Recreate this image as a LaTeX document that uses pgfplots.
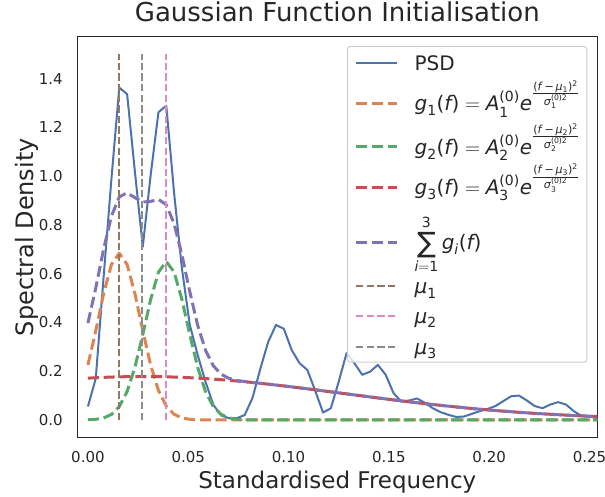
\documentclass[border=0pt]{standalone}
\usepackage{amsmath}
\usepackage{fontspec}
\setmainfont{DejaVu Sans}
\usepackage{pgfplots}
\usepackage{pgfplotstable}
\pgfplotsset{compat=1.18}
\definecolor{cpsd}{HTML}{4C72B0}
\definecolor{cgone}{HTML}{DD8452}
\definecolor{cgtwo}{HTML}{55A868}
\definecolor{cgthree}{HTML}{C44E52}
\definecolor{csum}{HTML}{8172B3}
\definecolor{cmuone}{HTML}{937860}
\definecolor{cmutwo}{HTML}{DA8BC3}
\definecolor{cmuthree}{HTML}{8C8C8C}
\definecolor{ctext}{HTML}{262626}
\newcommand{\I}[1]{\textit{#1}}
\newcommand{\EXP}[1]{\frac{\text{\fontsize{11}{13}\selectfont(\I{f}\,−\,\I{μ}\textsubscript{#1})\textsuperscript{2}}}{\text{\fontsize{11}{13}\selectfont\I{σ}$_{\text{#1}}^{\text{(0)2}}$}}}
\newcommand{\GF}[1]{$\I{g}_{\text{#1}}\text{(}\I{f}\text{)} = \I{A}_{\text{#1}}^{\text{(0)}}\I{e}^{\EXP{#1}}$}

\pgfplotstableread{
f psd g1 g2 g3 sum
0          0.055 0.2254 0.0007 0.1715 0.3976
0.00390625 0.170 0.3660 0.0025 0.1732 0.5417
0.0078125  0.586 0.5180 0.0080 0.1747 0.7007
0.01171875 0.990 0.6380 0.0224 0.1759 0.8363
0.015625   1.364 0.6840 0.0547 0.1768 0.9155
0.01953125 1.337 0.6380 0.1166 0.1775 0.9321
0.0234375  1.017 0.5180 0.2165 0.1779 0.9124
0.02734375 0.711 0.3660 0.3502 0.1780 0.8942
0.03125    1.004 0.2254 0.4937 0.1779 0.8970
0.03515625 1.263 0.1208 0.6068 0.1775 0.9051
0.0390625  1.290 0.0563 0.6500 0.1768 0.8831
0.04296875 0.930 0.0229 0.6068 0.1759 0.8056
0.046875   0.620 0.0081 0.4937 0.1747 0.6765
0.05078125 0.390 0.0025 0.3502 0.1732 0.5259
0.0546875  0.267 0.0007 0.2165 0.1715 0.3887
0.05859375 0.157 0.0002 0.1166 0.1696 0.2864
0.0625     0.062 0      0.0547 0.1674 0.2221
0.06640625 0.018 0      0.0224 0.1650 0.1874
0.0703125  0.007 0      0.0080 0.1625 0.1705
0.07421875 0.007 0      0.0025 0.1596 0.1621
0.078125   0.020 0      0.0007 0.1567 0.1574
0.08203125 0.090 0      0.0002 0.1535 0.1537
0.0859375  0.210 0      0      0.1502 0.1502
0.08984375 0.320 0      0      0.1467 0.1467
0.09375    0.390 0      0      0.1431 0.1431
0.09765625 0.374 0      0      0.1394 0.1394
0.1015625  0.287 0      0      0.1355 0.1355
0.10546875 0.233 0      0      0.1316 0.1316
0.109375   0.205 0      0      0.1276 0.1276
0.11328125 0.120 0      0      0.1235 0.1235
0.1171875  0.030 0      0      0.1194 0.1194
0.12109375 0.048 0      0      0.1152 0.1152
0.125      0.157 0      0      0.1110 0.1110
0.12890625 0.274 0      0      0.1068 0.1068
0.1328125  0.233 0      0      0.1026 0.1026
0.13671875 0.185 0      0      0.0985 0.0985
0.140625   0.198 0      0      0.0943 0.0943
0.14453125 0.226 0      0      0.0902 0.0902
0.1484375  0.185 0      0      0.0861 0.0861
0.15234375 0.110 0      0      0.0821 0.0821
0.15625    0.075 0      0      0.0782 0.0782
0.16015625 0.080 0      0      0.0743 0.0743
0.1640625  0.088 0      0      0.0706 0.0706
0.16796875 0.070 0      0      0.0669 0.0669
0.171875   0.048 0      0      0.0633 0.0633
0.17578125 0.032 0      0      0.0598 0.0598
0.1796875  0.021 0      0      0.0564 0.0564
0.18359375 0.012 0      0      0.0531 0.0531
0.1875     0.014 0      0      0.0500 0.0500
0.19140625 0.025 0      0      0.0470 0.0470
0.1953125  0.036 0      0      0.0440 0.0440
0.19921875 0.045 0      0      0.0412 0.0412
0.203125   0.057 0      0      0.0386 0.0386
0.20703125 0.077 0      0      0.0360 0.0360
0.2109375  0.097 0      0      0.0336 0.0336
0.21484375 0.100 0      0      0.0312 0.0312
0.21875    0.080 0      0      0.0290 0.0290
0.22265625 0.057 0      0      0.0269 0.0269
0.2265625  0.048 0      0      0.0250 0.0250
0.23046875 0.063 0      0      0.0231 0.0231
0.234375   0.073 0      0      0.0213 0.0213
0.23828125 0.063 0      0      0.0197 0.0197
0.2421875  0.036 0      0      0.0181 0.0181
0.24609375 0.016 0      0      0.0167 0.0167
0.25       0.013 0      0      0.0153 0.0153
0.25390625 0.008 0      0      0.0140 0.0140
}\data

\begin{document}
\begin{tikzpicture}[x=1pt,y=1pt]
\path[use as bounding box] (0,0) rectangle (605,497);
\begin{axis}[
  at={(77.3pt,59.3pt)}, anchor=south west,
  scale only axis, width=520pt, height=401pt,
  xmin=-0.0053, xmax=0.2539, ymin=-0.073, ymax=1.573,
  xtick={0,0.05,0.1,0.15,0.2,0.25},
  ytick={0,0.2,0.4,0.6,0.8,1.0,1.2,1.4},
  major tick length=0pt,
  xticklabel shift=0pt, yticklabel shift=0pt,
  /pgf/number format/assume math mode=true,
  xticklabel style={font=\fontsize{15}{18}\selectfont, text=ctext, inner sep=0pt, anchor=base, yshift=-24.5pt,
    /pgf/number format/.cd, fixed, fixed zerofill, precision=2},
  yticklabel style={font=\fontsize{15}{18}\selectfont, text=ctext, inner sep=0pt, anchor=base east, xshift=-14.4pt, yshift=-5.4pt,
    /pgf/number format/.cd, fixed, fixed zerofill, precision=1},
  scaled ticks=false,
  axis line style={draw=ctext, line width=1.25pt},
  title={Gaussian Function Initialisation},
  title style={font=\fontsize{26}{30}\selectfont, text=ctext, at={(0.5,1)}, anchor=base, yshift=8.7pt, inner sep=0pt},
  xlabel={Standardised Frequency},
  xlabel style={font=\fontsize{23}{27}\selectfont, text=ctext, at={(0.5,0)}, anchor=base, yshift=-51.3pt, inner sep=0pt},
  ylabel={Spectral Density},
  ylabel style={font=\fontsize{24}{28}\selectfont, text=ctext, at={(0,0.5)}, anchor=base, yshift=44pt, inner sep=0pt},
  legend cell align=left,
  legend style={at={(0.98077,0.97681)}, anchor=north east, draw=black!20, line width=1pt, rounded corners=3pt,
    fill=white, fill opacity=0.8, text opacity=1, text=ctext,
    font=\fontsize{20}{24}\selectfont, inner xsep=7.3pt, inner ysep=2.25pt, row sep=0pt, column sep=16pt,
    nodes={inner sep=0pt}},
  every axis plot/.append style={line join=round},
  legend image code/.code={\draw[#1] (0pt,0pt) -- (41pt,0pt);},
  clip=true,
]
\addplot[cpsd, line width=2pt] table[x=f, y=psd] {\data};
\addlegendentry[text height=21.65pt, text depth=7.25pt]{\makebox[164pt][l]{PSD}}
\addplot[cgone, line width=3pt, dash pattern=on 11pt off 4.8pt] table[x=f, y=g1] {\data};
\addlegendentry[text height=33.35pt, text depth=18.95pt]{\GF{1}}
\addplot[cgtwo, line width=3pt, dash pattern=on 11pt off 4.8pt] table[x=f, y=g2] {\data};
\addlegendentry[text height=24.2pt, text depth=9.8pt]{\GF{2}}
\addplot[cgthree, line width=3pt, dash pattern=on 11pt off 4.8pt] table[x=f, y=g3] {\data};
\addlegendentry[text height=30.45pt, text depth=16.05pt]{\GF{3}}
\addplot[csum, line width=3pt, dash pattern=on 11pt off 4.8pt] table[x=f, y=sum] {\data};
\addlegendentry[text height=39.55pt, text depth=25.15pt]{$\displaystyle\mathop{\vcenter{\hbox{\fontsize{28}{30}\selectfont ∑}}}\limits_{\I{i}=\text{1}}^{\text{3}}\I{g}_{\I{i}}\text{(}\I{f}\text{)}$}
\addplot[cmuone, line width=2pt, dash pattern=on 7.4pt off 3.2pt] coordinates {(0.0155,0) (0.0155,1.5)};
\addlegendentry[text height=18.55pt, text depth=4.15pt]{$\I{μ}_{\text{1}}$}
\addplot[cmutwo, line width=2pt, dash pattern=on 7.4pt off 3.2pt] coordinates {(0.0388,0) (0.0388,1.5)};
\addlegendentry[text height=25.2pt, text depth=10.8pt]{$\I{μ}_{\text{2}}$}
\addplot[cmuthree, line width=2pt, dash pattern=on 7.4pt off 3.2pt] coordinates {(0.0271,0) (0.0271,1.5)};
\addlegendentry[text height=20.2pt, text depth=5.8pt]{$\I{μ}_{\text{3}}$}
\node[anchor=base west, inner sep=0pt, text=ctext, font=\fontsize{15}{18}\selectfont] at (rel axis cs:0,1) [yshift=6pt] {1e7};
\end{axis}
\end{tikzpicture}
\end{document}
